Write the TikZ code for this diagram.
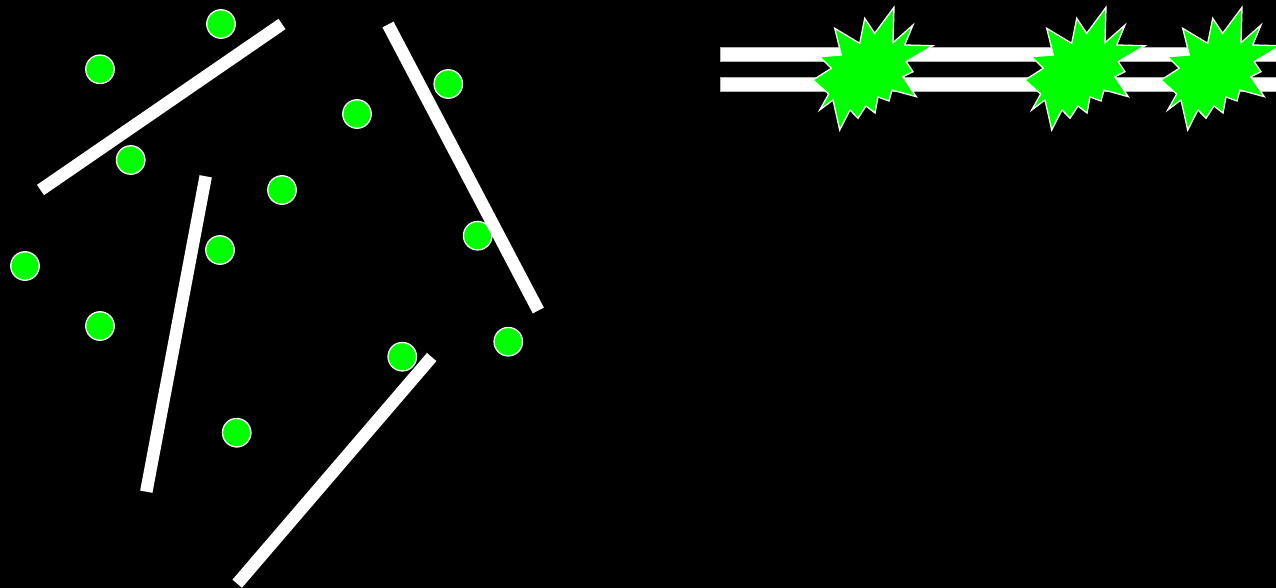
\documentclass[tikz,border=0pt]{standalone}
\definecolor{mygreen}{RGB}{0,255,0}
\tikzset{
  ball/.style={circle, fill=mygreen, draw=white, line width=1.3pt, minimum size=28.5pt, inner sep=0pt},
  stick/.style={draw=white, line width=12.5pt, line cap=butt},
  rail/.style={fill=white, draw=gray!60, line width=0.6pt},
  burst/.style={fill=mygreen, draw=white, line width=1.3pt, line join=miter, miter limit=20},
}
\begin{document}
\begin{tikzpicture}[x=1pt,y=-1pt]
\useasboundingbox (0,0) rectangle (1276,588);
\fill[black] (0,0) rectangle (1276,588);

% balls
\node[ball] (b1) at (221,24) {};
\node[ball] (b2) at (100,69.3) {};
\node[ball] (b3) at (448.3,84) {};
\node[ball] (b4) at (357,114) {};
\node[ball] (b5) at (130.7,160) {};
\node[ball] (b6) at (282,190) {};
\node[ball] (b7) at (477.7,235.7) {};
\node[ball] (b8) at (220,250) {};
\node[ball] (b9) at (25,266) {};
\node[ball] (b10) at (100,326) {};
\node[ball] (b11) at (508.3,341.7) {};
\node[ball] (b12) at (402.3,356.7) {};
\node[ball] (b13) at (236.7,432.7) {};

% sticks
\coordinate (s1a) at (40.5,190);
\coordinate (s1b) at (282,24);
\coordinate (s2a) at (205.7,176.3);
\coordinate (s2b) at (146.3,491.7);
\coordinate (s3a) at (388,24.5);
\coordinate (s3b) at (538.3,310.5);
\coordinate (s4a) at (431.7,357);
\coordinate (s4b) at (237.2,583.7);
\draw[stick] (s1a) -- (s1b);
\draw[stick] (s2a) -- (s2b);
\draw[stick] (s3a) -- (s3b);
\draw[stick] (s4a) -- (s4b);

% rails
\draw[rail] (720.5,47.5) rectangle (1280,61);
\draw[rail] (720.5,77.8) rectangle (1280,91);

% bursts
\foreach \dx in {-212,0,136} {
  \begin{scope}[xshift=\dx pt]
  \draw[burst] (1106,7.3) -- (1105,42.7) -- (1125,25) -- (1116.7,45) -- (1145,45.7)
    -- (1118.3,61.7) -- (1125,71.7) -- (1115,76.7) -- (1128.3,96.7) -- (1104,90)
    -- (1101,101) -- (1090,97) -- (1087,113) -- (1078,106) -- (1070,118.3)
    -- (1062,110) -- (1051.7,130) -- (1045,100) -- (1031.7,110) -- (1040.7,94)
    -- (1025,80) -- (1043.3,68.3) -- (1031.7,56.7) -- (1053.3,55) -- (1046.7,28.3)
    -- (1071.7,43.3) -- (1076.7,18.3) -- (1086.7,33.3) -- cycle;
  \end{scope}
}
\end{tikzpicture}
\end{document}
